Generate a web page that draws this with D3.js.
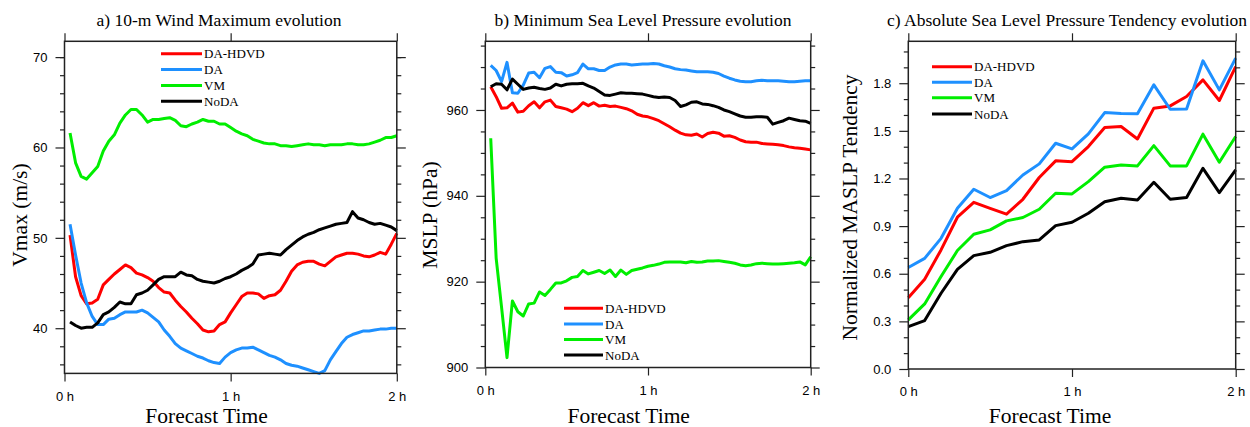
<!DOCTYPE html>
<html><head><meta charset="utf-8">
<script src="https://cdn.jsdelivr.net/npm/d3@7"></script>
<style>
body{margin:0;background:#fff}
svg{display:block;background:#fff}
.tick text{font-family:"Liberation Sans",Arial,Helvetica,sans-serif;font-size:13px;fill:#000}
.serif{font-family:"Liberation Serif","Times New Roman",Times,serif;fill:#000}
</style></head>
<body><svg id="chart" width="1250" height="427"></svg>
<script>
// ---------- data ----------
const seriesNames = ["DA-HDVD","DA","VM","NoDA"];
const seriesColors = ["#ff0000","#1e90ff","#00ee00","#000000"];

// forecast minutes (panels a, b)
const minutesAB = [2,4,6,8,10,12,14,16,18,20,22,24,26,28,30,32,34,36,38,40,
  42,44,46,48,50,52,54,56,58,60,62,64,66,68,70,72,74,76,78,80,
  82,84,86,88,90,92,94,96,98,100,102,104,106,108,110,112,114,116,118,120];
// forecast minutes (panel c)
const minutesC = [0,6,12,18,24,30,36,42,48,54,60,66,72,78,84,90,96,102,108,114,120];

// a) 10-m wind maximum (m/s)
const vmaxHDVD = [50.3,45.7,43.6,42.7,42.8,43.2,44.8,45.4,46.0,46.5,
  47.0,46.7,46.1,45.9,45.6,45.2,44.5,44.0,43.9,43.1,
  42.4,41.8,41.1,40.5,39.8,39.6,39.7,40.4,40.7,41.7,
  42.6,43.5,43.9,43.9,43.8,43.3,43.6,43.7,44.2,45.2,
  46.3,47.0,47.3,47.4,47.4,47.1,46.9,47.4,47.9,48.1,
  48.3,48.3,48.2,48.0,47.9,48.1,48.4,48.2,49.3,50.5];
const vmaxDA = [51.5,48.1,45.0,42.8,41.3,40.4,40.4,41.0,41.1,41.5,
  41.8,41.8,41.8,42.0,41.7,41.2,40.7,39.8,39.1,38.3,
  37.8,37.5,37.2,36.9,36.7,36.4,36.2,36.1,36.8,37.3,
  37.6,37.8,37.8,37.9,37.6,37.3,37.0,36.8,36.5,36.1,
  35.9,35.8,35.6,35.4,35.2,35.0,35.3,36.5,37.4,38.3,
  39.0,39.3,39.5,39.7,39.7,39.8,39.9,39.9,40.0,40.0];
const vmaxVM = [61.6,58.3,56.8,56.5,57.2,57.9,59.6,60.7,61.4,62.7,
  63.6,64.2,64.2,63.6,62.8,63.1,63.1,63.2,63.3,63.0,
  62.4,62.3,62.6,62.8,63.1,62.9,62.9,62.6,62.6,62.2,
  61.8,61.5,61.3,60.9,60.7,60.5,60.4,60.4,60.2,60.2,
  60.1,60.2,60.3,60.4,60.3,60.3,60.2,60.3,60.3,60.3,
  60.4,60.4,60.3,60.3,60.4,60.6,60.8,61.1,61.1,61.3];
const vmaxNoDA = [40.7,40.3,40.0,40.1,40.1,40.6,41.5,41.8,42.3,42.9,
  42.7,42.7,43.7,43.9,44.2,44.8,45.4,45.7,45.7,45.7,
  46.2,45.9,45.8,45.4,45.2,45.1,45.0,45.2,45.5,45.7,
  46.0,46.4,46.7,47.1,48.1,48.2,48.3,48.2,48.1,48.7,
  49.2,49.7,50.1,50.4,50.6,50.9,51.1,51.3,51.5,51.6,
  51.7,52.9,52.2,52.0,51.7,51.5,51.6,51.4,51.2,50.8];

// b) minimum sea level pressure (hPa)
const mslpHDVD = [965.4,963.1,960.4,960.5,961.6,959.5,959.7,961.0,961.9,960.5,
  961.9,962.3,960.8,960.5,960.2,959.6,960.4,961.7,961.0,961.7,
  960.9,961.1,960.8,960.9,960.6,960.3,959.8,959.0,958.6,958.4,
  958.0,957.5,956.8,956.1,955.3,954.6,954.2,954.1,954.4,953.7,
  954.5,954.8,954.6,953.9,954.0,953.6,953.0,952.6,952.5,952.5,
  952.2,952.1,952.0,951.9,951.7,951.4,951.2,951.1,950.9,950.7];
const mslpDA = [970.4,969.2,966.6,971.1,964.0,963.9,965.8,968.6,968.8,967.5,
  969.7,970.1,968.8,968.7,967.9,968.2,968.7,970.7,969.6,969.6,
  969.2,969.2,970.0,970.5,970.7,970.7,970.5,970.6,970.7,970.7,
  970.8,970.7,970.3,970.0,969.6,969.4,969.3,969.1,968.9,968.9,
  968.9,968.8,968.5,967.9,967.4,967.0,966.7,966.6,966.6,966.8,
  966.9,966.8,966.8,966.8,966.7,966.6,966.6,966.7,966.8,966.8];
const mslpVM = [953.4,925.5,914.0,902.3,915.5,913.0,912.0,914.8,915.0,917.6,
  916.8,918.2,919.7,919.7,920.2,921.0,921.2,922.6,921.8,922.2,
  922.6,921.9,922.7,921.2,922.7,921.7,922.6,922.9,923.2,923.6,
  923.8,924.1,924.5,924.6,924.6,924.6,924.4,924.7,924.5,924.6,
  924.8,924.8,924.9,924.7,924.5,924.3,923.9,923.7,923.9,924.2,
  924.3,924.2,924.1,924.1,924.2,924.3,924.4,924.6,923.9,925.8];
const mslpNoDA = [965.4,966.1,966.0,964.7,967.2,966.0,964.8,965.1,965.3,965.0,
  964.8,965.1,966.0,965.6,966.0,966.1,966.1,966.2,965.6,965.1,
  964.3,963.5,963.4,963.7,964.0,963.9,963.9,963.8,963.7,963.4,
  963.1,962.9,963.0,962.9,962.2,960.8,961.2,961.8,961.9,961.4,
  961.3,961.0,960.6,960.0,959.6,959.1,958.6,958.3,958.3,958.4,
  958.4,958.3,956.7,957.1,957.5,958.1,957.8,957.5,957.4,956.9];

// c) normalized absolute MSLP tendency
const tendHDVD = [0.449,0.565,0.750,0.956,1.050,1.012,0.975,1.069,1.206,1.311,1.306,
  1.401,1.521,1.527,1.449,1.643,1.657,1.716,1.821,1.691,1.905];
const tendDA = [0.639,0.697,0.823,1.012,1.132,1.080,1.124,1.222,1.292,1.422,1.386,
  1.481,1.615,1.609,1.607,1.790,1.636,1.638,1.941,1.758,1.958];
const tendVM = [0.309,0.410,0.582,0.746,0.849,0.876,0.933,0.954,1.006,1.107,1.103,
  1.180,1.271,1.285,1.279,1.407,1.279,1.279,1.479,1.302,1.464];
const tendNoDA = [0.267,0.305,0.477,0.628,0.714,0.735,0.777,0.802,0.813,0.903,0.924,
  0.981,1.054,1.075,1.065,1.176,1.069,1.080,1.264,1.111,1.254];

// tick labels / values
const xTickMinutes = [0,60,120];
const xTickLabels = ["0 h","1 h","2 h"];
const yTicksA = [40,50,60,70];
const yMinorA = [36,38,42,44,46,48,52,54,56,58,62,64,66,68,70];
const yTicksB = [900,920,940,960];
const yMinorB = [905,910,915,925,930,935,945,950,955,965,970,975];
const yTicksC = [0,0.3,0.6,0.9,1.2,1.5,1.8];
const yMinorC = [0.1,0.2,0.4,0.5,0.7,0.8,1.0,1.1,1.3,1.4,1.6,1.7,1.9,2.0];

const titles = ["a) 10-m Wind Maximum evolution",
  "b) Minimum Sea Level Pressure evolution",
  "c) Absolute Sea Level Pressure Tendency evolution"];
const yLabels = ["Vmax (m/s)","MSLP (hPa)","Normalized MASLP Tendency"];
const xLabel = "Forecast Time";

// ---------- drawing ----------
const svg = d3.select("#chart");

const panels = [
  {x0:64.5,x1:396.8,yTop:41.3,yBot:373.4,yDomain:[35,71.75],
   t:minutesAB,series:[vmaxHDVD,vmaxDA,vmaxVM,vmaxNoDA],
   major:yTicksA,minor:yMinorA,fmt:d=>d3.format("d")(d),
   title:titles[0],titleX:219,ylab:yLabels[0],ylabX:19,ylabY:215,xlabX:206.5,
   leg:{x0:161,x1:202,y:[53.8,69.5,85.5,101.2]}},
  {x0:485.3,x1:810.7,yTop:41.3,yBot:367.5,yDomain:[900,976],
   t:minutesAB,series:[mslpHDVD,mslpDA,mslpVM,mslpNoDA],
   major:yTicksB,minor:yMinorB,fmt:d=>d3.format("d")(d),
   title:titles[1],titleX:643,ylab:yLabels[1],ylabX:429,ylabY:215,xlabX:628.7,
   leg:{x0:564,x1:603,y:[308.3,324,339.5,355]}},
  {x0:908.3,x1:1235.7,yTop:41.3,yBot:369,yDomain:[0,2.064],
   t:minutesC,series:[tendHDVD,tendDA,tendVM,tendNoDA],
   major:yTicksC,minor:yMinorC,fmt:d3.format(".1f"),
   title:titles[2],titleX:1067,ylab:yLabels[2],ylabX:849,ylabY:207.5,xlabX:1050,
   leg:{x0:932,x1:972,y:[66.7,82.3,97.8,114]}}
];

function styleAxis(sel){
  sel.select(".domain").remove();
  sel.selectAll(".tick line").attr("stroke","#222").attr("stroke-width",1.2);
}

panels.forEach(p=>{
  const g = svg.append("g");
  const x = d3.scaleLinear().domain([0,120]).range([p.x0,p.x1]);
  const y = d3.scaleLinear().domain(p.yDomain).range([p.yBot,p.yTop]);
  const xFmt = d => xTickLabels[xTickMinutes.indexOf(d)];

  // axes: bottom with labels, top without
  g.append("g").attr("transform",`translate(0,${p.yBot})`)
    .call(d3.axisBottom(x).tickValues(xTickMinutes).tickFormat(xFmt).tickSize(8).tickPadding(10).tickSizeOuter(0))
    .call(styleAxis);
  g.append("g").attr("transform",`translate(0,${p.yTop})`)
    .call(d3.axisTop(x).tickValues(xTickMinutes).tickFormat("").tickSize(8).tickSizeOuter(0))
    .call(styleAxis);
  // left major + minor
  g.append("g").attr("transform",`translate(${p.x0},0)`)
    .call(d3.axisLeft(y).tickValues(p.major).tickFormat(p.fmt).tickSize(9).tickPadding(8).tickSizeOuter(0))
    .call(styleAxis);
  g.append("g").attr("transform",`translate(${p.x0},0)`)
    .call(d3.axisLeft(y).tickValues(p.minor).tickFormat("").tickSize(4.5).tickSizeOuter(0))
    .call(styleAxis);
  // right major + minor
  g.append("g").attr("transform",`translate(${p.x1},0)`)
    .call(d3.axisRight(y).tickValues(p.major).tickFormat("").tickSize(9).tickSizeOuter(0))
    .call(styleAxis);
  g.append("g").attr("transform",`translate(${p.x1},0)`)
    .call(d3.axisRight(y).tickValues(p.minor).tickFormat("").tickSize(4.5).tickSizeOuter(0))
    .call(styleAxis);

  // lines
  const line = d3.line().x((d,i)=>x(p.t[i])).y(d=>y(d));
  p.series.forEach((s,i)=>{
    g.append("path").datum(s).attr("d",line).attr("fill","none")
      .attr("stroke",seriesColors[i]).attr("stroke-width",3)
      .attr("stroke-linejoin","round").attr("stroke-linecap","butt");
  });

  // frame
  g.append("rect").attr("x",p.x0).attr("y",p.yTop)
    .attr("width",p.x1-p.x0).attr("height",p.yBot-p.yTop)
    .attr("fill","none").attr("stroke","#222").attr("stroke-width",1.5);

  // legend
  seriesNames.forEach((n,i)=>{
    g.append("line").attr("x1",p.leg.x0).attr("x2",p.leg.x1)
      .attr("y1",p.leg.y[i]).attr("y2",p.leg.y[i])
      .attr("stroke",seriesColors[i]).attr("stroke-width",3);
    g.append("text").attr("class","serif").attr("x",p.leg.x1+2).attr("y",p.leg.y[i])
      .attr("dy","0.35em").attr("font-size",13).text(n);
  });

  // title
  g.append("text").attr("class","serif").attr("x",p.titleX).attr("y",26)
    .attr("text-anchor","middle").attr("font-size",17.5).text(p.title);
  // x label
  g.append("text").attr("class","serif").attr("x",p.xlabX).attr("y",423)
    .attr("text-anchor","middle").attr("font-size",21.5).text(xLabel);
  // y label
  g.append("text").attr("class","serif")
    .attr("transform",`translate(${p.ylabX},${p.ylabY}) rotate(-90)`)
    .attr("text-anchor","middle").attr("dy","0.35em").attr("font-size",21.5).text(p.ylab);
});
</script>
</body></html>
